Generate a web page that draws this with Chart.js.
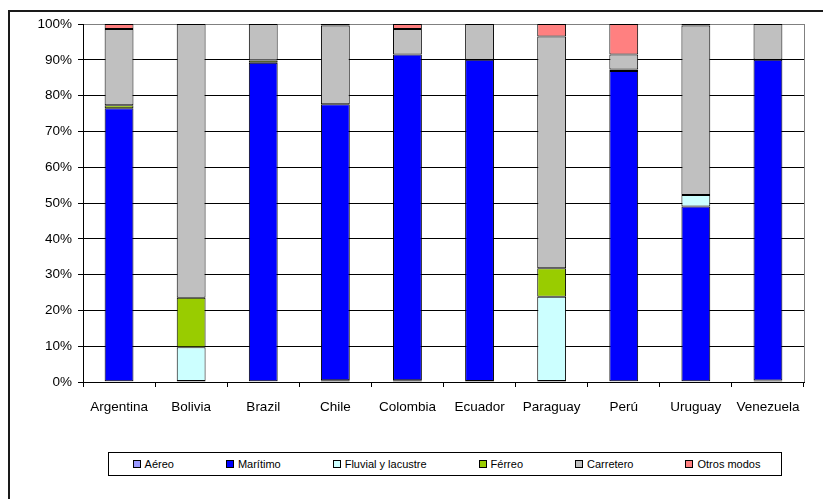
<!DOCTYPE html>
<html>
<head>
<meta charset="utf-8">
<script src="https://cdn.jsdelivr.net/npm/chart.js@4.4.1/dist/chart.umd.min.js"></script>
<style>
  html, body { margin: 0; padding: 0; background: #fff; }
  #wrap { position: relative; width: 823px; height: 499px; overflow: hidden; }
  #chart { position: absolute; left: 0; top: 0; }
  #legend {
    position: absolute; left: 108px; top: 452px; width: 674px; height: 24px;
    border: 1px solid #000; box-sizing: border-box; background: #fff;
    display: flex; align-items: center; justify-content: center; gap: 52px;
    font: 11px "Liberation Sans", Arial, sans-serif; color: #000;
    padding-left: 3px;
  }
  #legend .item { display: flex; align-items: center; white-space: nowrap; }
  #legend .sw { width: 6px; height: 6px; border: 1px solid #000; margin-right: 4px; }
</style>
</head>
<body>
<div id="wrap">
  <canvas id="chart" width="823" height="499"></canvas>
  <div id="legend"></div>
</div>
<script>
// Modal split of transport, share of total (%) by country
const countries = ['Argentina', 'Bolivia', 'Brazil', 'Chile', 'Colombia', 'Ecuador', 'Paraguay', 'Perú', 'Uruguay', 'Venezuela'];
const seriesNames = ['Aéreo', 'Marítimo', 'Fluvial y lacustre', 'Férreo', 'Carretero', 'Otros modos'];
const aereo     = [0.2, 0.3, 0.2, 0.5, 0.5, 0.3, 0.3, 0.2, 0.2, 0.4];
const maritimo  = [76.3, 0, 89.0, 77.1, 91.0, 89.7, 0, 86.7, 48.8, 89.6];
const fluvial   = [0, 9.4, 0, 0, 0, 0, 23.5, 0, 3.2, 0];
const ferreo    = [0.8, 13.8, 0.6, 0, 0, 0, 8.0, 0.4, 0, 0];
const carretero = [21.3, 76.5, 10.2, 22.0, 7.1, 10.0, 64.7, 4.2, 47.4, 10.0];
const otros     = [1.4, 0, 0, 0.4, 1.4, 0, 3.5, 8.5, 0.4, 0];
const yTicks = [0, 10, 20, 30, 40, 50, 60, 70, 80, 90, 100];

const seriesValues = [aereo, maritimo, fluvial, ferreo, carretero, otros];
const seriesColors = ['#9999FF', '#0000FF', '#CCFFFF', '#99CC00', '#C0C0C0', '#FF8080'];

const FONT = { family: '"Liberation Sans", Arial, sans-serif', size: 13.5 };

// outer frame of the figure plus the grey plot-area edge on the right
const framePlugin = {
  id: 'frame',
  beforeDraw(chart) {
    const ctx = chart.ctx;
    ctx.save();
    ctx.fillStyle = '#fff';
    ctx.fillRect(0, 0, chart.width, chart.height);
    ctx.strokeStyle = '#1a1a1a';
    ctx.lineWidth = 2;
    ctx.strokeRect(9, 11, chart.width + 20, chart.height + 20);
    ctx.restore();
  },
  beforeDatasetsDraw(chart) {
    const { ctx, chartArea: a } = chart;
    ctx.save();
    ctx.strokeStyle = '#808080';
    ctx.lineWidth = 1;
    ctx.beginPath();
    ctx.moveTo(Math.round(a.right) + 0.5, a.top);
    ctx.lineTo(Math.round(a.right) + 0.5, a.bottom);
    ctx.stroke();
    ctx.restore();
  }
};

new Chart(document.getElementById('chart'), {
  type: 'bar',
  data: {
    labels: countries,
    datasets: seriesNames.map((name, i) => ({
      label: name,
      data: seriesValues[i],
      backgroundColor: seriesColors[i],
      borderColor: '#000',
      borderWidth: 1,
      borderSkipped: false,
      barPercentage: 0.4,
      categoryPercentage: 1.0
    }))
  },
  options: {
    responsive: false,
    animation: false,
    devicePixelRatio: 1,
    layout: { padding: { top: 24, right: 19, bottom: 0, left: 0 } },
    plugins: { legend: { display: false }, tooltip: { enabled: false } },
    scales: {
      x: {
        stacked: true,
        offset: true,
        grid: { offset: true, drawOnChartArea: false, drawTicks: true, tickLength: 5, color: '#000' },
        border: { color: '#000', width: 1 },
        ticks: { color: '#000', font: FONT, padding: 12, maxRotation: 0, autoSkip: false },
        afterFit(scale) { scale.height = 117; }
      },
      y: {
        stacked: true,
        min: 0,
        max: 100,
        afterBuildTicks(scale) { scale.ticks = yTicks.map(v => ({ value: v })); },
        grid: {
          color: ctx => (ctx.tick && ctx.tick.value === 100) ? '#808080' : '#000',
          tickColor: '#000',
          tickLength: 5,
          lineWidth: 1
        },
        border: { color: '#000', width: 1 },
        ticks: { color: '#000', font: FONT, padding: 6, callback: v => v + '%' },
        afterFit(scale) { scale.width = 83; }
      }
    }
  },
  plugins: [framePlugin]
});

// legend row
const legend = document.getElementById('legend');
seriesNames.forEach((name, i) => {
  const item = document.createElement('span');
  item.className = 'item';
  const sw = document.createElement('span');
  sw.className = 'sw';
  sw.style.background = seriesColors[i];
  const txt = document.createElement('span');
  txt.textContent = name;
  item.appendChild(sw);
  item.appendChild(txt);
  legend.appendChild(item);
});
</script>
</body>
</html>
